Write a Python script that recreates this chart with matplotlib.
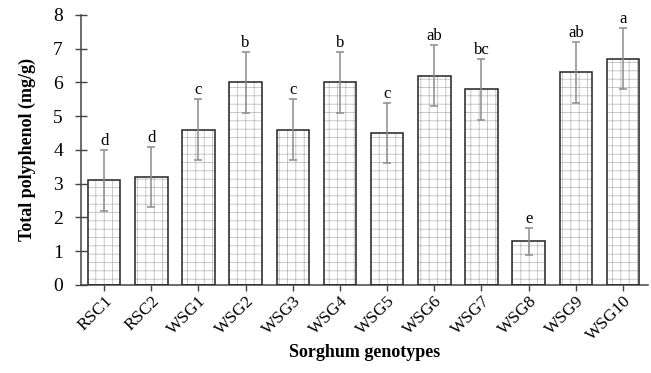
import matplotlib.pyplot as plt
import numpy as np

genotypes = ['RSC1', 'RSC2', 'WSG1', 'WSG2', 'WSG3', 'WSG4',
             'WSG5', 'WSG6', 'WSG7', 'WSG8', 'WSG9', 'WSG10']
polyphenol = [3.1, 3.2, 4.6, 6.0, 4.6, 6.0, 4.5, 6.2, 5.8, 1.3, 6.3, 6.7]
errors = [0.9, 0.9, 0.9, 0.9, 0.9, 0.9, 0.9, 0.9, 0.9, 0.4, 0.9, 0.9]
letters = ['d', 'd', 'c', 'b', 'c', 'b', 'c', 'ab', 'bc', 'e', 'ab', 'a']

plt.rcParams['font.family'] = 'Liberation Serif'
plt.rcParams['hatch.linewidth'] = 0.5

fig = plt.figure(figsize=(6.51, 3.73), dpi=100)
ax = fig.add_axes([0.1244, 0.236, 0.871, 0.724])

x = np.arange(len(genotypes))
width = 0.69

# dotted grid fill, then the outline on top
ax.bar(x, polyphenol, width, color='white', edgecolor='#b4b4b4',
       hatch='++', linewidth=0, zorder=2)
ax.bar(x, polyphenol, width, color='none', edgecolor='#222222',
       linewidth=1.1, zorder=3)
ax.errorbar(x, polyphenol, yerr=errors, fmt='none', ecolor='#8c8c8c',
            elinewidth=1.1, capsize=3, capthick=1.1, zorder=4)

for xi, v, e, s in zip(x, polyphenol, errors, letters):
    ax.text(xi, v + e + 0.03, s, ha='center', va='bottom', fontsize=12)

ax.set_xlim(-0.49, 11.53)
ax.set_ylim(0, 8)
ax.set_yticks(range(0, 9))
ax.set_xticks(x)
ax.set_xticklabels(genotypes, rotation=45, ha='right', rotation_mode='anchor')

ax.spines['top'].set_visible(False)
ax.spines['right'].set_visible(False)
for sp in ('left', 'bottom'):
    ax.spines[sp].set_color('#444444')
    ax.spines[sp].set_linewidth(1.1)

ax.tick_params(axis='y', direction='inout', length=8, width=1,
               color='#444444', labelsize=14, pad=9)
ax.tick_params(axis='x', direction='out', length=4, width=1,
               color='#444444', labelsize=12.5, pad=2)

ax.set_ylabel('Total polyphenol (mg/g)', fontsize=13, fontweight='bold',
              labelpad=12)
ax.set_xlabel('Sorghum genotypes', fontsize=13, fontweight='bold',
              labelpad=0)

fig.savefig('out.png', dpi=100)
